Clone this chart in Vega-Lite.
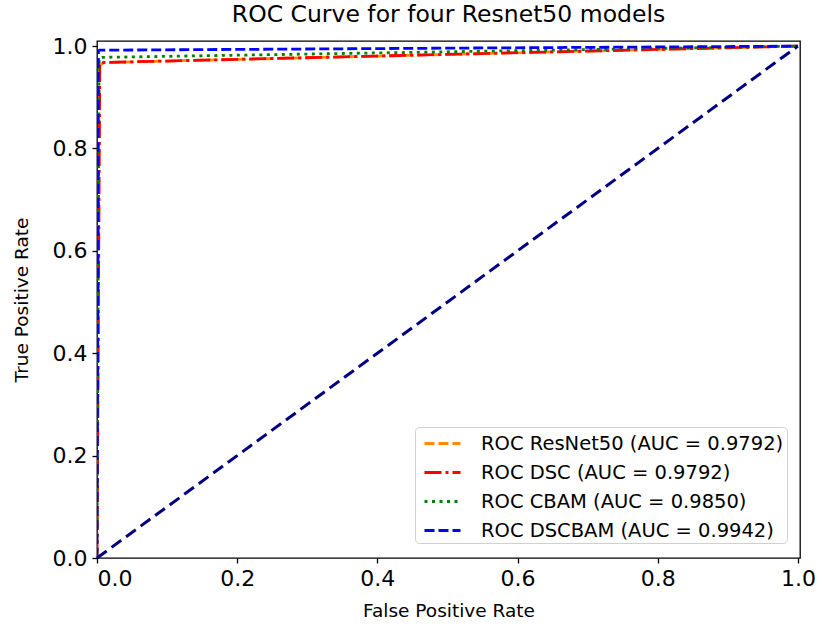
{
  "$schema": "https://vega.github.io/schema/vega-lite/v6.json",
  "width": 703,
  "height": 517,
  "autosize": {"type": "none"},
  "padding": {"left": 97, "top": 41, "right": 23, "bottom": 68},
  "background": "white",
  "title": {"text": "ROC Curve for four Resnet50 models", "fontSize": 23.5, "font": "DejaVu Sans", "fontWeight": "normal", "color": "black", "offset": 9},
  "config": {
    "font": "DejaVu Sans",
    "view": {"stroke": "black", "strokeWidth": 1.3},
    "axis": {"grid": false, "domainColor": "black", "tickColor": "black", "labelColor": "black", "titleColor": "black", "labelFontSize": 22, "titleFontSize": 18.5, "titleFontWeight": "normal", "tickSize": 5, "tickWidth": 1.3, "labelPadding": 5, "domain": false}
  },
  "datasets": {
    "roc": [
      {"model": "ROC ResNet50 (AUC = 0.9792)", "fpr": 0.0, "tpr": 0.0},
      {"model": "ROC ResNet50 (AUC = 0.9792)", "fpr": 0.003, "tpr": 0.962},
      {"model": "ROC ResNet50 (AUC = 0.9792)", "fpr": 0.01, "tpr": 0.968},
      {"model": "ROC ResNet50 (AUC = 0.9792)", "fpr": 1.0, "tpr": 1.0},
      {"model": "ROC DSC (AUC = 0.9792)", "fpr": 0.0, "tpr": 0.0},
      {"model": "ROC DSC (AUC = 0.9792)", "fpr": 0.004, "tpr": 0.966},
      {"model": "ROC DSC (AUC = 0.9792)", "fpr": 0.01, "tpr": 0.968},
      {"model": "ROC DSC (AUC = 0.9792)", "fpr": 1.0, "tpr": 1.0},
      {"model": "ROC CBAM (AUC = 0.9850)", "fpr": 0.0, "tpr": 0.0},
      {"model": "ROC CBAM (AUC = 0.9850)", "fpr": 0.003, "tpr": 0.976},
      {"model": "ROC CBAM (AUC = 0.9850)", "fpr": 0.008, "tpr": 0.978},
      {"model": "ROC CBAM (AUC = 0.9850)", "fpr": 1.0, "tpr": 1.0},
      {"model": "ROC DSCBAM (AUC = 0.9942)", "fpr": 0.0, "tpr": 0.0},
      {"model": "ROC DSCBAM (AUC = 0.9942)", "fpr": 0.002, "tpr": 0.99},
      {"model": "ROC DSCBAM (AUC = 0.9942)", "fpr": 0.0036, "tpr": 0.992},
      {"model": "ROC DSCBAM (AUC = 0.9942)", "fpr": 1.0, "tpr": 1.0}
    ],
    "diag": [
      {"fpr": 0.0, "tpr": 0.0},
      {"fpr": 1.0, "tpr": 1.0}
    ]
  },
  "layer": [
    {
      "data": {"name": "roc"},
      "mark": {"type": "line", "strokeWidth": 2.8, "clip": true},
      "encoding": {
        "x": {"field": "fpr", "type": "quantitative", "scale": {"domain": [0, 1.003], "nice": false, "zero": false}, "axis": {"values": [0, 0.2, 0.4, 0.6, 0.8, 1.0], "format": ".1f", "title": "False Positive Rate", "titlePadding": 12}},
        "y": {"field": "tpr", "type": "quantitative", "scale": {"domain": [0, 1.01], "nice": false}, "axis": {"values": [0, 0.2, 0.4, 0.6, 0.8, 1.0], "format": ".1f", "title": "True Positive Rate", "titlePadding": 21}},
        "color": {"field": "model", "type": "nominal", "sort": null,
          "scale": {"domain": ["ROC ResNet50 (AUC = 0.9792)", "ROC DSC (AUC = 0.9792)", "ROC CBAM (AUC = 0.9850)", "ROC DSCBAM (AUC = 0.9942)"], "range": ["#ff8c00", "#ff0000", "#008000", "#0000ff"]},
          "legend": {"title": null, "orient": "none", "legendX": 318, "legendY": 386, "symbolType": "M-1.5,0L1.5,0", "symbolSize": 576, "symbolStrokeWidth": 3, "symbolFillColor": "transparent", "symbolOffset": 11, "labelFontSize": 19.5, "labelColor": "black", "rowPadding": 6, "padding": 3, "strokeColor": "#d0d0d0", "fillColor": "white", "cornerRadius": 4, "labelOffset": 25, "labelLimit": 400}},
        "strokeDash": {"field": "model", "type": "nominal", "sort": null,
          "scale": {"domain": ["ROC ResNet50 (AUC = 0.9792)", "ROC DSC (AUC = 0.9792)", "ROC CBAM (AUC = 0.9850)", "ROC DSCBAM (AUC = 0.9942)"], "range": [[10, 4], [17, 4, 3, 4], [3, 4.5], [10, 4]]},
          "legend": {"title": null, "orient": "none", "legendX": 318, "legendY": 386}}
      }
    },
    {
      "data": {"name": "diag"},
      "mark": {"type": "line", "color": "#000080", "strokeWidth": 3, "strokeDash": [12, 6]},
      "encoding": {
        "x": {"field": "fpr", "type": "quantitative"},
        "y": {"field": "tpr", "type": "quantitative"}
      }
    }
  ]
}
